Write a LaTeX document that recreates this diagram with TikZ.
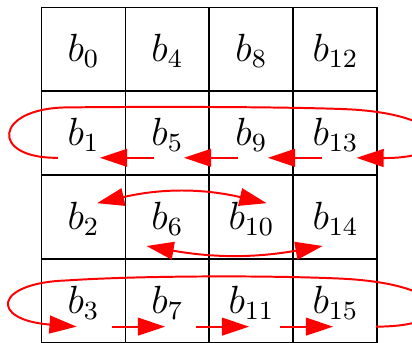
\documentclass[tikz,border=0pt]{standalone}
\usetikzlibrary{arrows.meta}

\begin{document}
\begin{tikzpicture}[x=9mm,y=9mm,line width=.6pt,>={Triangle[length=8.3pt,width=5.4pt]},
  link/.style={red,line width=.6pt},entry/.style={font=\large,anchor=base}]
\useasboundingbox (-.494,-3.994) rectangle (4.411,.089);
\clip (-.494,-3.994) rectangle (4.411,.089);
\draw[step=9mm] (0,0) grid (4,-4);
\foreach \r in {0,...,3}{\foreach \c in {0,...,3}{\pgfmathtruncatemacro\k{4*\c+\r}\node[entry] (b\k) at (\c+.5,-\r-.64) {$b_{\k}$};}}
% row 1: leftwards, loop back round the top
\foreach \a/\b in {5/1,9/5,13/9}{\draw[link,->] ([shift={(-.165,-.15)}]b\a.base)--([shift={(.196,-.15)}]b\b.base);}
\draw[link,->] ([shift={(-.304,-.15)}]b1.base) .. controls (-.62,-1.8) and (-.57,-1.2) .. (.3,-1.19) .. controls (1.2,-1.18) and (2.8,-1.18) .. (3.6,-1.21) .. controls (4.9,-1.26) and (5,-1.8) .. ([shift={(.25,-.15)}]b13.base);
% row 2: swaps
\draw[link,<->] ([shift={(.161,.31)}]b2.base) to[bend left=13] ([shift={(.18,.31)}]b10.base);
\draw[link,<->] ([shift={(-.25,-.2)}]b6.base) to[bend right=10] ([shift={(-.153,-.2)}]b14.base);
% row 3: rightwards, loop back round the top
\foreach \a/\b in {3/7,7/11,11/15}{\draw[link,->] ([shift={(.338,-.16)}]b\a.base)--([shift={(-.028,-.16)}]b\b.base);}
\draw[link,->] ([shift={(.482,-.16)}]b15.base) .. controls (5,-3.8) and (4.9,-3.3) .. (3.6,-3.23) .. controls (2.8,-3.19) and (1.2,-3.19) .. (.3,-3.25) .. controls (-.57,-3.28) and (-.62,-3.72) .. ([shift={(-.081,-.16)}]b3.base);
\end{tikzpicture}
\end{document}
